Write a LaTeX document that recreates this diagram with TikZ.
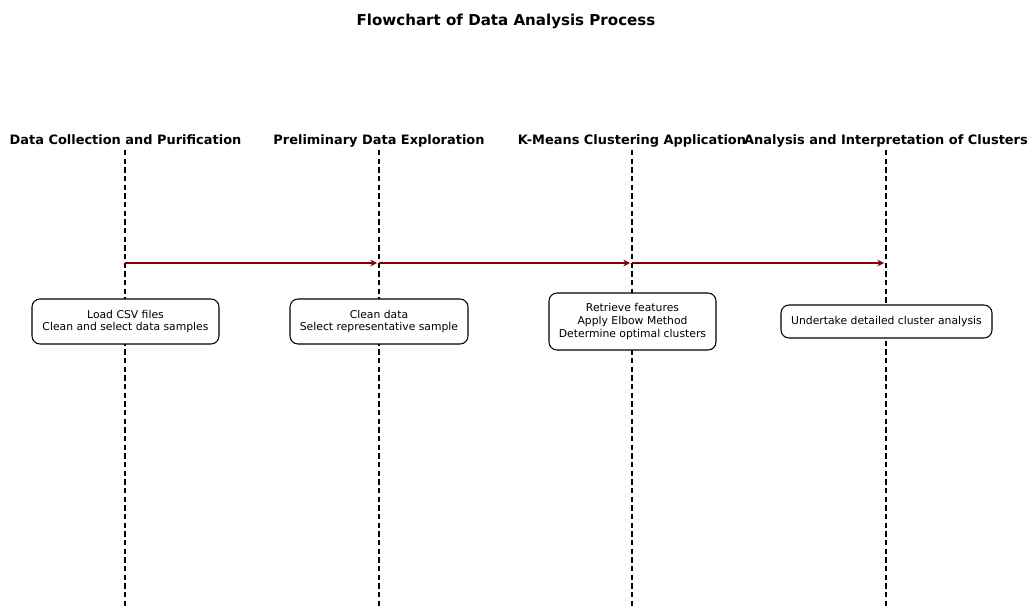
\documentclass[tikz,border=0pt]{standalone}
\usepackage{fontspec}
\setmainfont{DejaVu Sans}
\usetikzlibrary{arrows.meta}
\definecolor{arrowred}{HTML}{800000}
\tikzset{
  lane/.style={draw=black, line width=1.1pt, dash pattern=on 4pt off 2.5pt},
  head/.style={font=\fontsize{9.7}{11}\selectfont\bfseries, anchor=base},
  stepbox/.style={draw=black, line width=0.8pt, rounded corners=6pt, fill=white, align=center, font=\fontsize{8.1}{9.4}\selectfont, inner sep=0pt},
  flow/.style={draw=arrowred, line width=1.1pt, -{Stealth[length=5pt,width=5pt]}},
}
\begin{document}
\begin{tikzpicture}[x=0.75pt, y=-0.75pt]
\useasboundingbox (0,0) rectangle (1029,607);
\node[font=\fontsize{11.3}{13}\selectfont\bfseries] (title) at (506,21) {Flowchart of Data Analysis Process};
% lanes
\foreach \n/\x in {a/125, b/379, c/632, d/886} {
  \coordinate (top\n) at (\x,150);
  \coordinate (bot\n) at (\x,607);
  \coordinate (arr\n) at (\x,263);
  \draw[lane] (top\n) -- (bot\n);
}
\node[head] (ha) at (125.5,144) {Data Collection and Purification};
\node[head] (hb) at (379,144) {Preliminary Data Exploration};
\node[head] (hc) at (632,144) {K-Means Clustering Application};
\node[head] (hd) at (886,144) {Analysis and Interpretation of Clusters};
% arrows
\draw[flow] (arra) -- ([xshift=-1.5pt]arrb);
\draw[flow] (arrb) -- ([xshift=-1.5pt]arrc);
\draw[flow] (arrc) -- ([xshift=-1.5pt]arrd);
% boxes
\node[stepbox, minimum width=187*0.75pt, minimum height=45*0.75pt] (s1) at (125.5,321.5) {Load CSV files\\Clean and select data samples};
\node[stepbox, minimum width=178*0.75pt, minimum height=45*0.75pt] (s2) at (379,321.5) {Clean data\\Select representative sample};
\node[stepbox, minimum width=167*0.75pt, minimum height=57*0.75pt] (s3) at (632.5,321.5) {Retrieve features\\Apply Elbow Method\\Determine optimal clusters};
\node[stepbox, minimum width=211*0.75pt, minimum height=33*0.75pt] (s4) at (886.5,321.5) {Undertake detailed cluster analysis};
\end{tikzpicture}
\end{document}
